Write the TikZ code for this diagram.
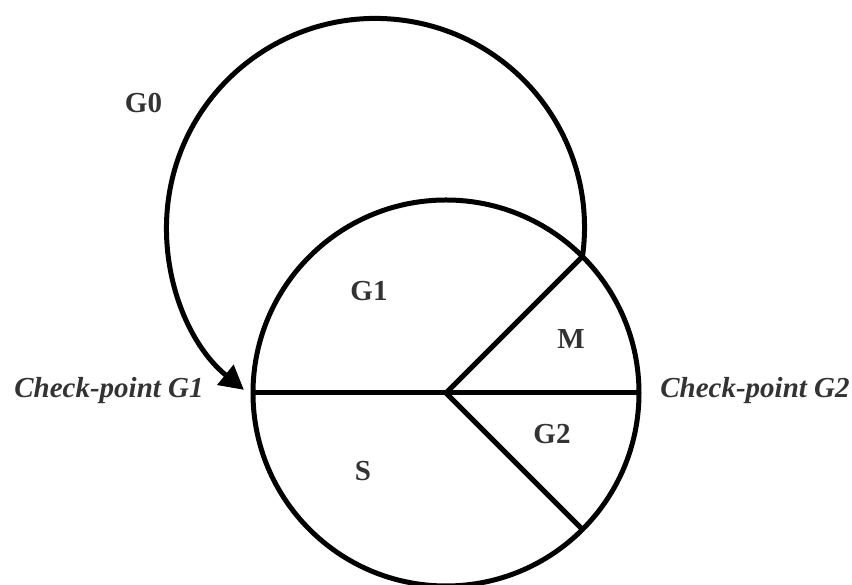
\documentclass[tikz,border=0pt]{standalone}
\usepackage{fontspec}
\setmainfont{Liberation Serif}
\usetikzlibrary{arrows.meta, positioning}

\begin{document}
\begin{tikzpicture}[x=1pt, y=1pt, line width=5pt,
  phase/.style={text=black!80, font=\fontsize{29}{34}\selectfont\bfseries},
  check/.style={text=black!80, font=\fontsize{29}{34}\selectfont\bfseries\itshape}]
  \useasboundingbox (0,0) rectangle (852,585);

  % the cell
  \node[circle, draw, minimum size=386pt, inner sep=0pt, outer sep=0pt]
    (cell) at (446,192) {};
  \coordinate (O) at (cell.center);

  \draw (cell.west) -- (cell.east);
  \draw (O) -- (cell.45);
  \draw (O) -- (cell.-45);

  % G0 loop
  \draw[-{Triangle[length=24pt, width=25pt]}]
    (cell.45) arc[start angle=-8, end angle=231, radius=209];

  \node[phase] (g0) at (143.5,482) {G0};
  \node[phase] (g1) at (369,294)   {G1};
  \node[phase] (m)  at (571,246)   {M};
  \node[phase] (g2) at (552,151)   {G2};
  \node[phase] (s)  at (363,114)   {S};

  \node[check] (cpG1) at (109,194) {Check-point G1};
  \node[check] (cpG2) at (755,194) {Check-point G2};
\end{tikzpicture}
\end{document}
